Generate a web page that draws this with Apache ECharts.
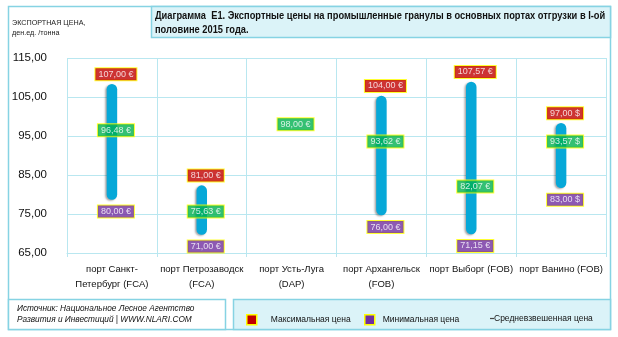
<!DOCTYPE html>
<html>
<head>
<meta charset="utf-8">
<script src="https://cdn.jsdelivr.net/npm/echarts@6/dist/echarts.min.js"></script>
<style>
html,body{margin:0;padding:0;background:#fff;}
#c{width:618px;height:337px;}
</style>
</head>
<body>
<div id="c"></div>
<script>
const categories = ['порт Санкт-\nПетербург (FCA)', 'порт Петрозаводск\n(FCA)', 'порт Усть-Луга\n(DAP)', 'порт Архангельск\n(FOB)', 'порт Выборг (FOB)', 'порт Ванино (FOB)'];
const maxPrice = [107.00, 81.00, null, 104.00, 107.57, 97.00];
const minPrice = [80.00, 71.00, null, 76.00, 71.15, 83.00];
const avgPrice = [96.48, 75.63, 98.00, 93.62, 82.07, 93.57];
const currency = ['€', '€', '€', '€', '€', '$'];
const yMin = 65, yMax = 115, yStep = 10;

const SANS = '"Liberation Sans", Arial, sans-serif';
const CYAN = '#86d3e3';
const GRID = '#b9e7f0';
const NONE = 'rgba(0,0,0,0)';
const YEL = '#ffff00';

function fmt(v, i) { return v.toFixed(2).replace('.', ',') + ' ' + currency[i]; }

function labelStyle(bg, dy) {
  return {
    show: true, position: 'inside', offset: [4, dy],
    color: '#fff', fontSize: 9, fontFamily: SANS,
    backgroundColor: bg, borderColor: YEL, borderWidth: 1,
    padding: [2, 3, 1, 3],
    formatter: p => fmt(p.value[1], p.value[0])
  };
}

const rangeData = categories.map((c, i) => [i, minPrice[i], maxPrice[i]]).filter(d => d[1] != null);
const maxData = maxPrice.map((v, i) => [i, v]).filter(d => d[1] != null);
const minData = minPrice.map((v, i) => [i, v]).filter(d => d[1] != null);
const avgData = avgPrice.map((v, i) => [i, v]);

function legendBox(left, name, icon, w, h, color, border, pad) {
  const st = {color: color, borderColor: border, borderWidth: border === NONE ? 0 : 1.5, opacity: 1};
  return {
    left: left, top: 309, itemWidth: w, itemHeight: h, selectedMode: false,
    itemStyle: st,
    textStyle: {fontSize: 8.5, fontFamily: SANS, color: '#111', padding: [0, 0, 0, pad]},
    data: [{name: name, icon: icon, itemStyle: st}]
  };
}

const chart = echarts.init(document.getElementById('c'), null, {renderer: 'canvas'});

const option = {
  animation: false,
  graphic: [
    {type: 'rect', z: -10, shape: {x: 8.5, y: 6.5, width: 602, height: 323}, style: {fill: '#fff', stroke: CYAN, lineWidth: 1.5}},
    {type: 'rect', z: -9, shape: {x: 151.5, y: 6.5, width: 459, height: 31}, style: {fill: '#dbf3f8', stroke: CYAN, lineWidth: 1.5}},
    {type: 'rect', z: -9, shape: {x: 8.5, y: 299.5, width: 217, height: 30}, style: {fill: '#fff', stroke: CYAN, lineWidth: 1.5}},
    {type: 'rect', z: -9, shape: {x: 233.5, y: 299.5, width: 377, height: 30}, style: {fill: '#dbf3f8', stroke: CYAN, lineWidth: 1.5}},
    {type: 'text', x: 155, y: 9, scaleX: 0.845, style: {text: 'Диаграмма  E1. Экспортные цены на промышленные гранулы в основных портах отгрузки в I-ой\nполовине 2015 года.', fontSize: 11, fontWeight: 'bold', fontFamily: SANS, fill: '#111', lineHeight: 14}},
    {type: 'text', x: 12, y: 18, scaleX: 0.9, style: {text: 'ЭКСПОРТНАЯ ЦЕНА,\nден.ед. /тонна', fontSize: 8, fontFamily: SANS, fill: '#222', lineHeight: 10}},
    {type: 'text', x: 17, y: 303, scaleX: 0.92, style: {text: 'Источник: Национальное Лесное Агентство\nРазвития и Инвестиций | WWW.NLARI.COM', fontSize: 9, fontStyle: 'italic', fontFamily: SANS, fill: '#111', lineHeight: 11}}
  ],
  legend: [
    legendBox(241, 'Максимальная цена', 'rect', 10, 10, '#c00000', YEL, 9),
    legendBox(359, 'Минимальная цена', 'rect', 10, 10, '#7030a0', YEL, 3),
    legendBox(485, 'Средневзвешенная цена', 'path://M0,9.4H4V10.6H0Z', 4, 10, '#444', NONE, -5)
  ],
  grid: {left: 67, right: 12, top: 58, bottom: 84},
  xAxis: {
    type: 'category', data: categories, boundaryGap: true,
    axisLine: {show: true, lineStyle: {color: GRID, width: 1}},
    axisTick: {show: true, length: 4, lineStyle: {color: GRID}},
    splitLine: {show: true, lineStyle: {color: GRID, width: 1}},
    axisLabel: {color: '#111', fontSize: 9.5, fontFamily: SANS, margin: 9, lineHeight: 15, interval: 0}
  },
  yAxis: {
    type: 'value', min: yMin, max: yMax, interval: yStep,
    axisLine: {show: false}, axisTick: {show: false},
    splitLine: {show: true, lineStyle: {color: GRID, width: 1}},
    axisLabel: {color: '#111', fontSize: 11.5, fontFamily: SANS, margin: 20, formatter: v => v.toFixed(2).replace('.', ',')}
  },
  series: [
    {
      type: 'custom', name: 'range', data: rangeData, z: 2,
      encode: {x: 0, y: [1, 2]},
      renderItem: function (params, api) {
        const p1 = api.coord([api.value(0), api.value(1)]);
        const p2 = api.coord([api.value(0), api.value(2)]);
        return {
          type: 'line',
          shape: {x1: p1[0], y1: p1[1], x2: p2[0], y2: p2[1]},
          style: {stroke: '#06a8d8', lineWidth: 10.5, lineCap: 'round', shadowColor: 'rgba(0,0,0,0.35)', shadowBlur: 2, shadowOffsetX: -1.5, shadowOffsetY: 1}
        };
      }
    },
    {type: 'scatter', name: 'Максимальная цена', data: maxData, symbolSize: 0, itemStyle: {color: '#c00000', borderColor: YEL, borderWidth: 1}, z: 5, label: labelStyle('#c00000', -15)},
    {type: 'scatter', name: 'Минимальная цена', data: minData, symbolSize: 0, itemStyle: {color: '#7030a0', borderColor: YEL, borderWidth: 1}, z: 5, label: labelStyle('#7030a0', 17)},
    {type: 'scatter', name: 'Средневзвешенная цена', data: avgData, symbolSize: 0, itemStyle: {color: '#444', borderWidth: 0}, z: 5, label: labelStyle('#00b050', 0)}
  ]
};
chart.setOption(option);
</script>
</body>
</html>
